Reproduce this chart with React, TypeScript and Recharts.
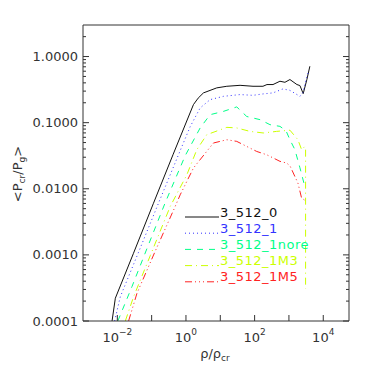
import { LineChart, Line, XAxis, YAxis, Legend } from "recharts";

// density (rho/rho_cr) and <Pcr/Pg>
const rho0 = [0.00702, 0.00875, 0.0292, 0.1114, 0.4246, 1.652, 2.265, 3.23, 7.9, 15.5, 37.7, 89.8, 175, 229, 343, 547, 765, 1069, 1709, 2089, 2606, 3334, 4074];
const p0 = [1e-4, 2.21e-4, 1.04e-3, 5.93e-3, 0.0333, 0.1875, 0.235, 0.282, 0.336, 0.355, 0.367, 0.355, 0.355, 0.377, 0.377, 0.423, 0.408, 0.449, 0.377, 0.364, 0.275, 0.449, 0.713];

const rho1 = [0.00835, 0.01222, 0.0407, 0.1556, 0.678, 1.325, 2.59, 5.05, 12.3, 37.7, 89.8, 175, 343, 670, 1069, 2089, 2553, 3273, 3811];
const p1 = [1e-4, 2.33e-4, 1.07e-3, 5.93e-3, 0.0377, 0.0869, 0.167, 0.223, 0.25, 0.266, 0.259, 0.272, 0.282, 0.324, 0.308, 0.25, 0.285, 0.481, 0.614];

const rhoNore = [0.01035, 0.0267, 0.0745, 0.248, 0.948, 2.59, 5.05, 12.3, 30.2, 58.9, 144, 280, 547, 819, 1069, 1493, 2089, 2917];
const pNore = [1e-4, 3.31e-4, 1.28e-3, 6.14e-3, 0.0316, 0.0832, 0.132, 0.148, 0.173, 0.124, 0.111, 0.0933, 0.0879, 0.0757, 0.0552, 0.039, 0.0208, 0.0107];

const rhoM3 = [0.0171, 0.0298, 0.091, 0.3475, 1.062, 2.07, 4.05, 15.5, 30.2, 73.5, 179, 438, 1069, 1828, 2339, 2917, 3055, 3055];
const pM3 = [1e-4, 2.33e-4, 9.73e-4, 5.4e-3, 0.0163, 0.039, 0.0658, 0.0849, 0.0832, 0.0738, 0.0698, 0.0738, 0.0769, 0.0552, 0.039, 0.0437, 0.039, 3.05e-4];

const rhoM5 = [0.0213, 0.0374, 0.1273, 0.485, 0.678, 1.652, 6.3, 15.5, 30.2, 58.9, 115, 225, 350, 547, 857, 1069, 1828, 2339, 3273];
const pM5 = [1e-4, 2.63e-4, 1.14e-3, 5.4e-3, 8.1e-3, 0.0206, 0.0492, 0.0552, 0.0521, 0.0437, 0.0367, 0.0327, 0.0292, 0.026, 0.0245, 0.0223, 0.0122, 7.23e-3, 6.43e-3];

const xTicks = [1e-2, 1e-1, 1, 10, 100, 1e3, 1e4];
const yMajor = [1e-4, 1e-3, 1e-2, 1e-1, 1];
const yTicks = [
  1e-4, 2e-4, 3e-4, 4e-4, 5e-4, 6e-4, 7e-4, 8e-4, 9e-4,
  1e-3, 2e-3, 3e-3, 4e-3, 5e-3, 6e-3, 7e-3, 8e-3, 9e-3,
  1e-2, 2e-2, 3e-2, 4e-2, 5e-2, 6e-2, 7e-2, 8e-2, 9e-2,
  0.1, 0.2, 0.3, 0.4, 0.5, 0.6, 0.7, 0.8, 0.9,
  1, 2,
];
const yLabels = ["0.0001", "0.0010", "0.0100", "0.1000", "1.0000"];

const series = [
  { name: "3_512_0", rho: rho0, p: p0, color: "#111111", dash: undefined },
  { name: "3_512_1", rho: rho1, p: p1, color: "#3333ff", dash: "1 3" },
  { name: "3_512_1nore", rho: rhoNore, p: pNore, color: "#00ff88", dash: "6 6" },
  { name: "3_512_1M3", rho: rhoM3, p: pM3, color: "#ccff00", dash: "7 4 1 4" },
  { name: "3_512_1M5", rho: rhoM5, p: pM5, color: "#ff2222", dash: "7 3 1 3 1 3 1 3" },
];

const FONT = "DejaVu Sans";
const AX = "#333333";

const isMajor = (v: number) => Math.abs(Math.log10(v) - Math.round(Math.log10(v))) < 1e-6;

const BottomTick = ({ x, y, payload }: any) => {
  const e = Math.round(Math.log10(payload.value));
  return (
    <g>
      <line x1={x} y1={y} x2={x} y2={y - 6} stroke={AX} />
      {e % 2 === 0 && (
        <text x={x} y={y + 21} textAnchor="middle" fontSize={13} fontFamily={FONT} fill={AX}>
          <tspan>10</tspan>
          <tspan dy={-7} fontSize={9}>{e < 0 ? "\u2212" + Math.abs(e) : String(e)}</tspan>
        </text>
      )}
    </g>
  );
};

const TopTick = ({ x, y }: any) => <line x1={x} y1={y} x2={x} y2={y + 6} stroke={AX} />;

const LeftTick = ({ x, y, payload }: any) => {
  const major = isMajor(payload.value);
  const idx = yMajor.findIndex((m) => Math.abs(m - payload.value) / m < 1e-6);
  return (
    <g>
      <line x1={x} y1={y} x2={x + (major ? 6 : 3)} y2={y} stroke={AX} />
      {idx >= 0 && (
        <text x={x - 5} y={y + 4.5} textAnchor="end" fontSize={13} fontFamily={FONT} fill={AX}>
          {yLabels[idx]}
        </text>
      )}
    </g>
  );
};

const RightTick = ({ x, y, payload }: any) => {
  const major = isMajor(payload.value);
  return <line x1={x} y1={y} x2={x - (major ? 6 : 3)} y2={y} stroke={AX} />;
};

const LegendBox = () => (
  <svg width={170} height={90} style={{ display: "block", overflow: "visible" }}>
    {series.map((s, i) => (
      <g key={s.name}>
        <line x1={1} x2={35} y1={15 + i * 16.2} y2={15 + i * 16.2} stroke={s.color} strokeDasharray={s.dash} />
        <text x={36} y={14.5 + i * 16.2} fontSize={13} fontFamily={FONT} fill={s.color} letterSpacing={0.5}>
          {s.name}
        </text>
      </g>
    ))}
  </svg>
);

const YTitle = () => (
  <text transform="translate(22,174) rotate(-90)" textAnchor="middle" fontSize={13} fontFamily={FONT} fill={AX}>
    &lt;P<tspan dy={3} fontSize={9}>cr</tspan>
    <tspan dy={-3}>/P</tspan>
    <tspan dy={3} fontSize={9}>g</tspan>
    <tspan dy={-3}>&gt;</tspan>
  </text>
);

const XTitle = () => (
  <text x={215} y={358} textAnchor="middle" fontSize={13} fontFamily={FONT} fill={AX}>
    ρ/ρ<tspan dy={3} fontSize={9}>cr</tspan>
  </text>
);

export default function App() {
  return (
    <div style={{ position: "absolute", left: 0, top: 0, background: "#fff" }}>
      <LineChart width={374} height={374} margin={{ top: 0, right: 0, bottom: 0, left: 0 }}>
        <XAxis
          xAxisId="main"
          dataKey="x"
          type="number"
          scale="log"
          domain={[1e-3, 56234]}
          allowDataOverflow
          ticks={xTicks}
          interval={0}
          height={53}
          tickSize={0}
          tickMargin={0}
          tickLine={false}
          axisLine={{ stroke: AX }}
          tick={<BottomTick />}
          label={{ content: () => <XTitle /> }}
        />
        <XAxis
          xAxisId="top"
          orientation="top"
          type="number"
          scale="log"
          domain={[1e-3, 56234]}
          allowDataOverflow
          ticks={xTicks}
          interval={0}
          height={25}
          tickSize={0}
          tickMargin={0}
          tickLine={false}
          axisLine={{ stroke: AX }}
          tick={<TopTick />}
        />
        <YAxis
          yAxisId="main"
          type="number"
          scale="log"
          domain={[1e-4, 3]}
          allowDataOverflow
          ticks={yTicks}
          interval={0}
          width={83}
          tickSize={0}
          tickMargin={0}
          tickLine={false}
          axisLine={{ stroke: AX }}
          tick={<LeftTick />}
          label={{ content: () => <YTitle /> }}
        />
        <YAxis
          yAxisId="right"
          orientation="right"
          type="number"
          scale="log"
          domain={[1e-4, 3]}
          allowDataOverflow
          ticks={yTicks}
          interval={0}
          width={25}
          tickSize={0}
          tickMargin={0}
          tickLine={false}
          axisLine={{ stroke: AX }}
          tick={<RightTick />}
        />
        {series.map((s) => (
          <Line
            key={s.name}
            xAxisId="main"
            yAxisId="main"
            data={s.rho.map((r, i) => ({ x: r, y: s.p[i] }))}
            dataKey="y"
            name={s.name}
            stroke={s.color}
            strokeWidth={1}
            strokeDasharray={s.dash}
            dot={false}
            activeDot={false}
            isAnimationActive={false}
          />
        ))}
        <Legend
          layout="vertical"
          align="center"
          verticalAlign="middle"
          content={() => <LegendBox />}
          wrapperStyle={{ position: "absolute", left: 184, top: 202, width: 170, height: 90 }}
        />
      </LineChart>
    </div>
  );
}
